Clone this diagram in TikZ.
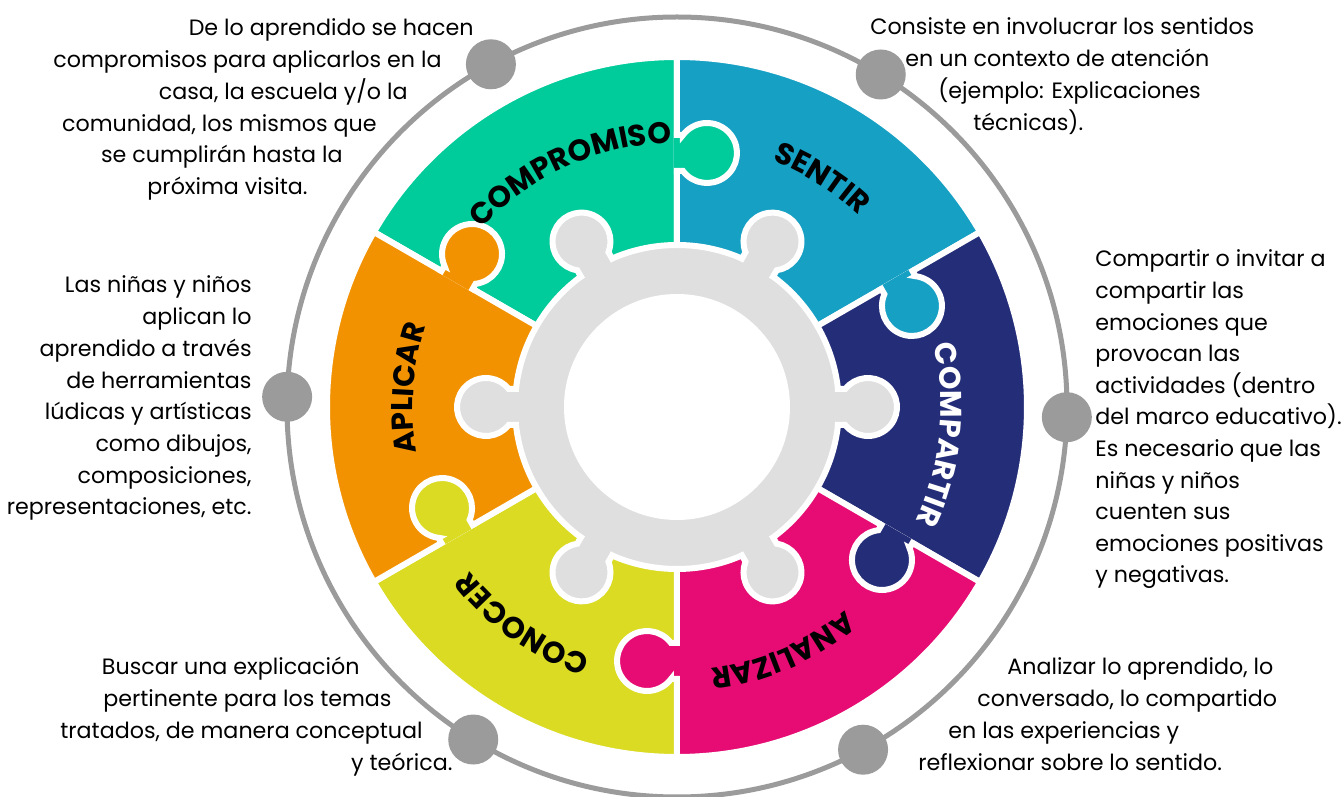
\documentclass[tikz,border=0pt]{standalone}
\usepackage{fontspec}
\setmainfont{Poppins}
\newfontfamily\labelfont{Poppins}
\usetikzlibrary{decorations.text}
\definecolor{compgreen}{RGB}{0,203,155}
\definecolor{sentblue}{RGB}{22,160,196}
\definecolor{navyblue}{RGB}{36,45,120}
\definecolor{analmagenta}{RGB}{230,12,116}
\definecolor{conyellow}{RGB}{218,219,34}
\definecolor{aplorange}{RGB}{242,146,0}
\definecolor{ringgray}{RGB}{223,223,223}
\definecolor{dotgray}{RGB}{155,155,155}
% tab of a piece at its clockwise edge
\newcommand{\piecetab}[2]{%
  \fill[#1, draw=white, line width=3pt, rotate=#2] (236,3) -- (236,-6)
    arc[start angle=126.87, end angle=413.13, radius=30] -- (272,-6) -- (272,3);}
% tab of the grey hub
\newcommand{\ringtab}[1]{%
  \fill[ringgray, draw=white, line width=3pt, rotate=#1] (158,18) -- (168.26,18)
    arc[start angle=141.63, end angle=-141.63, radius=29] -- (158,-18);}
\newcommand{\labelfmt}{\labelfont\bfseries\fontsize{15pt}{15pt}\selectfont}

\begin{document}
\begin{tikzpicture}[x=0.5pt, y=0.5pt,
  note/.style={font=\fontsize{11.1pt}{16pt}\selectfont, inner sep=0pt}]
\useasboundingbox (-677,-390) rectangle (664,407);

% outer ring and its dots
\draw[dotgray, line width=2.5pt] (0,0) circle[radius=390];
\foreach \a in {-1.5,58.5,...,298.5}
  \fill[dotgray] (\a:390) circle[radius=25];

% pieces
\foreach \a/\col in {90/compgreen, 30/sentblue, -30/navyblue, -90/analmagenta, -150/conyellow, 150/aplorange}
  \fill[\col, draw=white, line width=3pt] (\a:150) -- (\a:350)
    arc[start angle=\a, end angle=\a+60, radius=350] -- (\a+60:150)
    arc[start angle=\a+60, end angle=\a, radius=150] -- cycle;
\foreach \a/\col in {90/compgreen, 30/sentblue, -30/navyblue, -90/analmagenta, -150/conyellow, 150/aplorange}
  \piecetab{\col}{\a};

% hub
\fill[ringgray, draw=white, line width=3pt] (0,0) circle[radius=162];
\foreach \a in {0,60,...,300}
  \ringtab{\a};
\fill[white] (0,0) circle[radius=113];

% piece names
\foreach \ang/\txt/\col in {114.4/COMPROMISO/black, 57.7/SENTIR/black, -6/COMPARTIR/white,
    -66.6/ANALIZAR/black, -125.4/CONOCER/black, 176/APLICAR/black}
  \path[decorate, decoration={text along path, text align=center, text color=\col,
      text/.expanded={|\noexpand\labelfmt|\txt}}]
    (\ang+45:264) arc[start angle=\ang+45, end angle=\ang-45, radius=264];

% texts
\foreach \x/\y/\t [count=\i] in {-203/371/{De lo aprendido se hacen},
    -235/339/{compromisos para aplicarlos en la}, -269/307/{casa, la escuela y/o la},
    -300/275/{comunidad, los mismos que}, -334/244/{se cumplirán hasta la},
    -369/212/{próxima visita.}}
  \node[note, anchor=base east] (compromiso\i) at (\x,\y) {\t};
\foreach \x/\y/\t [count=\i] in {193/372/{Consiste en involucrar los sentidos},
    228/340/{en un contexto de atención}, 261/308/{(ejemplo: Explicaciones},
    296/276/{técnicas).}}
  \node[note, anchor=base west] (sentir\i) at (\x,\y) {\t};
\foreach \t [count=\i] in {Compartir o invitar a, compartir las, emociones que, provocan las,
    actividades (dentro, del marco educativo)., Es necesario que las, niñas y niños,
    cuenten sus, emociones positivas, y negativas.}
  \node[note, anchor=base west] (compartir\i) at (418,{140-31.6*(\i-1)}) {\t};
\foreach \x/\y/\t [count=\i] in {330/-268/{Analizar lo aprendido, lo},
    300/-300/{conversado, lo compartido}, 271/-332/{en las experiencias y},
    241/-364/{reflexionar sobre lo sentido.}}
  \node[note, anchor=base west] (analizar\i) at (\x,\y) {\t};
\foreach \x/\y/\t [count=\i] in {-317/-268/{Buscar una explicación},
    -285/-300/{pertinente para los temas}, -254/-332/{tratados, de manera conceptual},
    -224/-364/{y teórica.}}
  \node[note, anchor=base east] (conocer\i) at (\x,\y) {\t};
\foreach \t [count=\i] in {Las niñas y niños, aplican lo, aprendido a través, de herramientas,
    lúdicas y artísticas, {como dibujos,}, {composiciones,}, {representaciones, etc.}}
  \node[note, anchor=base east] (aplicar\i) at (-425,{114-31.7*(\i-1)}) {\t};
\end{tikzpicture}
\end{document}
